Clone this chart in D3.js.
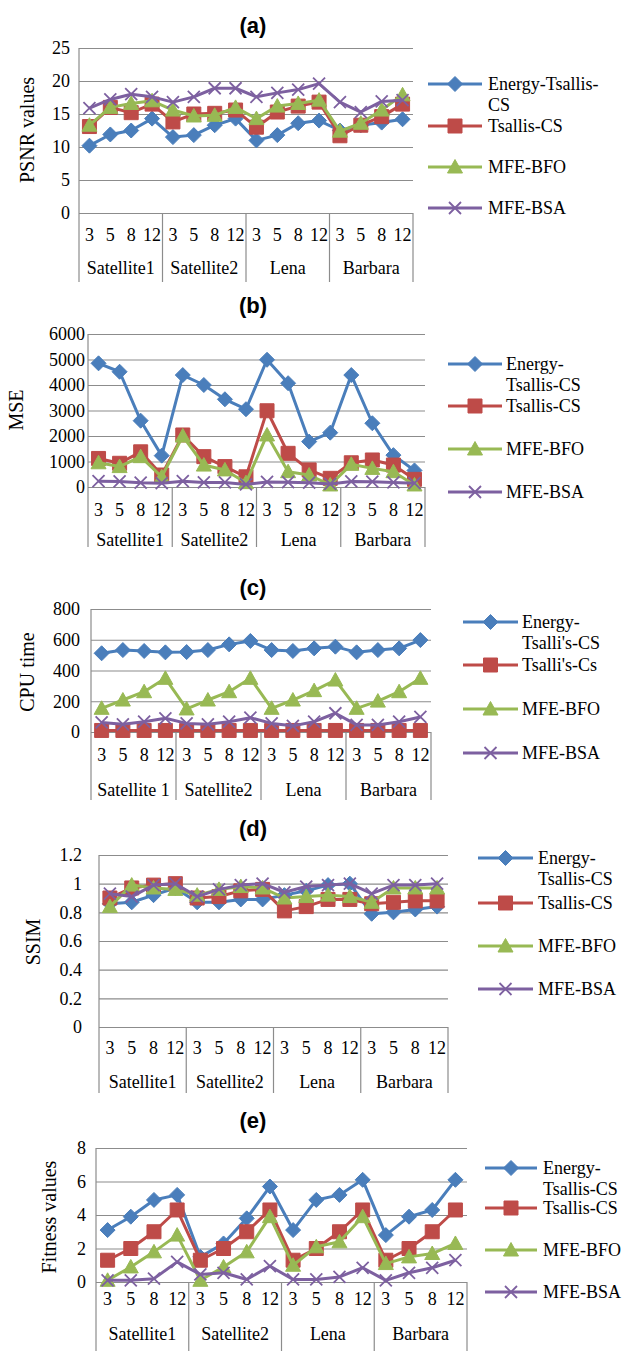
<!DOCTYPE html>
<html>
<head>
<meta charset="utf-8">
<script src="https://cdn.jsdelivr.net/npm/d3@7"></script>
<style>
  body { margin: 0; background: #fff; }
  svg text { font-family: "Liberation Serif", "Times New Roman", serif; fill: #000; }
</style>
</head>
<body>
<script>
// categories
const thresholds = ['3', '5', '8', '12', '3', '5', '8', '12', '3', '5', '8', '12', '3', '5', '8', '12'];
const images = ['Satellite1', 'Satellite2', 'Lena', 'Barbara'];
const imagesC = ['Satellite 1', 'Satellite2', 'Lena', 'Barbara'];

// (a) PSNR
const psnrEnergy  = [10.2, 11.9, 12.5, 14.3, 11.5, 11.8, 13.3, 14.3, 11.0, 11.8, 13.6, 14.0, 12.5, 13.3, 13.7, 14.2];
const psnrTsallis = [13.1, 16.0, 15.2, 16.5, 13.8, 15.0, 15.1, 15.6, 13.0, 15.3, 16.2, 16.8, 11.7, 13.3, 14.6, 16.5];
const psnrBFO     = [13.3, 16.0, 16.6, 17.0, 15.6, 14.7, 14.8, 16.0, 14.3, 16.2, 16.6, 17.1, 12.4, 13.6, 15.6, 17.9];
const psnrBSA     = [15.9, 17.2, 18.0, 17.6, 16.8, 17.6, 18.9, 18.9, 17.6, 18.2, 18.7, 19.6, 16.8, 15.3, 16.9, 17.1];
const psnrTicks = [0, 5, 10, 15, 20, 25];

// (b) MSE
const mseEnergy  = [4850, 4520, 2600, 1230, 4390, 4000, 3440, 3050, 4990, 4070, 1780, 2130, 4390, 2500, 1250, 650];
const mseTsallis = [1120, 930, 1380, 470, 2040, 1190, 800, 400, 2990, 1320, 670, 340, 950, 1060, 860, 300];
const mseBFO     = [950, 800, 1190, 400, 2000, 860, 670, 170, 2040, 600, 470, 80, 890, 730, 600, 80];
const mseBSA     = [230, 220, 170, 150, 230, 180, 180, 100, 200, 190, 170, 120, 220, 210, 180, 150];
const mseTicks = [0, 1000, 2000, 3000, 4000, 5000, 6000];

// (c) CPU time
const cpuEnergy  = [512, 533, 527, 518, 520, 533, 570, 592, 533, 527, 544, 555, 518, 533, 544, 598];
const cpuTsallis = [10, 10, 10, 10, 10, 10, 10, 10, 10, 10, 10, 10, 10, 10, 10, 10];
const cpuBFO     = [154, 208, 262, 349, 150, 208, 262, 349, 154, 208, 269, 338, 154, 201, 262, 349];
const cpuBSA     = [62, 50, 67, 89, 56, 50, 67, 93, 56, 40, 67, 122, 46, 46, 67, 98];
const cpuTicks = [0, 200, 400, 600, 800];

// (d) SSIM
const ssimEnergy  = [0.86, 0.87, 0.92, 0.97, 0.87, 0.87, 0.89, 0.89, 0.92, 0.95, 0.99, 1.0, 0.79, 0.80, 0.82, 0.84];
const ssimTsallis = [0.90, 0.97, 0.99, 1.0, 0.90, 0.91, 0.95, 0.96, 0.81, 0.84, 0.89, 0.89, 0.86, 0.87, 0.88, 0.88];
const ssimBFO     = [0.84, 0.99, 0.97, 0.96, 0.92, 0.96, 0.98, 0.97, 0.90, 0.91, 0.92, 0.91, 0.87, 0.97, 0.97, 0.97];
const ssimBSA     = [0.93, 0.91, 0.99, 1.0, 0.91, 0.96, 0.99, 1.0, 0.94, 0.98, 0.99, 1.0, 0.93, 0.99, 0.99, 1.0];
const ssimTicks = [0, 0.2, 0.4, 0.6, 0.8, 1, 1.2];

// (e) Fitness
const fitEnergy  = [3.1, 3.9, 4.9, 5.2, 1.5, 2.3, 3.8, 5.7, 3.1, 4.9, 5.2, 6.1, 2.8, 3.9, 4.3, 6.1];
const fitTsallis = [1.3, 2.0, 3.0, 4.3, 1.3, 2.0, 3.0, 4.3, 1.3, 2.0, 3.0, 4.3, 1.3, 2.0, 3.0, 4.3];
const fitBFO     = [0.1, 0.9, 1.8, 2.8, 0.1, 0.9, 1.8, 3.9, 1.0, 2.1, 2.4, 3.9, 1.1, 1.5, 1.7, 2.3];
const fitBSA     = [0.1, 0.1, 0.2, 1.2, 0.45, 0.55, 0.15, 0.95, 0.15, 0.15, 0.3, 0.85, 0.1, 0.55, 0.85, 1.3];
const fitTicks = [0, 2, 4, 6, 8];

const colors = ['#4a7ebb', '#be4b48', '#98b954', '#7d60a0'];
const markers = ['diamond', 'square', 'triangle', 'x'];
const serif = '"Liberation Serif", "Times New Roman", serif';

const width = 624, height = 1351;
const svg = d3.select('body').append('svg')
  .attr('width', width)
  .attr('height', height);

// layout of each panel
const panels = [
  { title: '(a)', axisTitle: 'PSNR values', series: [psnrEnergy, psnrTsallis, psnrBFO, psnrBSA], ticks: psnrTicks, groups: images,
    legend: [['Energy-Tsallis-', 'CS'], ['Tsallis-CS'], ['MFE-BFO'], ['MFE-BSA']],
    left: 79, right: 413, top: 48, zero: 213, labelX: 70, titleY: 25, atX: 27, atY: 130, tickY: 235, groupY: 268, bottom: 282,
    lg: { x0: 428, x1: 482, tx: 488, ys: [84, 126, 167, 208] } },
  { title: '(b)', axisTitle: 'MSE', series: [mseEnergy, mseTsallis, mseBFO, mseBSA], ticks: mseTicks, groups: images,
    legend: [['Energy-', 'Tsallis-CS'], ['Tsallis-CS'], ['MFE-BFO'], ['MFE-BSA']],
    left: 88, right: 425, top: 334, zero: 487, labelX: 85, titleY: 305, atX: 16, atY: 410, tickY: 510, groupY: 540, bottom: 547,
    lg: { x0: 448, x1: 502, tx: 506, ys: [364, 406, 449, 492] } },
  { title: '(c)', axisTitle: 'CPU time', series: [cpuEnergy, cpuTsallis, cpuBFO, cpuBSA], ticks: cpuTicks, groups: imagesC,
    legend: [['Energy-', "Tsalli's-CS"], ["Tsalli's-Cs"], ['MFE-BFO'], ['MFE-BSA']],
    left: 91, right: 431, top: 609, zero: 732, labelX: 80, titleY: 587, atX: 27, atY: 672, tickY: 755, groupY: 790, bottom: 800,
    lg: { x0: 463, x1: 518, tx: 522, ys: [622, 665, 709, 753] } },
  { title: '(d)', axisTitle: 'SSIM', series: [ssimEnergy, ssimTsallis, ssimBFO, ssimBSA], ticks: ssimTicks, groups: images,
    legend: [['Energy-', 'Tsallis-CS'], ['Tsallis-CS'], ['MFE-BFO'], ['MFE-BSA']],
    left: 99, right: 448, top: 855, zero: 1027, labelX: 82, titleY: 828, atX: 33, atY: 942, tickY: 1048, groupY: 1082, bottom: 1093,
    lg: { x0: 478, x1: 533, tx: 538, ys: [858, 903, 946, 989] } },
  { title: '(e)', axisTitle: 'Fitness values', series: [fitEnergy, fitTsallis, fitBFO, fitBSA], ticks: fitTicks, groups: images,
    legend: [['Energy-', 'Tsallis-CS'], ['Tsallis-CS'], ['MFE-BFO'], ['MFE-BSA']],
    left: 96, right: 467, top: 1148, zero: 1282, labelX: 86, titleY: 1120, atX: 49, atY: 1217, tickY: 1299, groupY: 1334, bottom: 1351,
    lg: { x0: 485, x1: 537, tx: 543, ys: [1168, 1208, 1250, 1292] } }
];

const markerPath = (type) => {
  if (type == 'diamond') return 'M0,-7.5L7.5,0L0,7.5L-7.5,0Z';
  if (type == 'square') return 'M-7,-7H7V7H-7Z';
  if (type == 'triangle') return 'M0,-7.5L7.5,6L-7.5,6Z';
  return 'M-6,-6L6,6M-6,6L6,-6';
};

const drawMarker = (g, type, color, x, y) => {
  const p = g.append('path')
    .attr('d', markerPath(type))
    .attr('transform', `translate(${x},${y})`);
  if (type == 'x') {
    p.attr('fill', 'none').attr('stroke', color).attr('stroke-width', 1.8);
  } else {
    p.attr('fill', color).attr('stroke', color).attr('stroke-width', 1);
  }
};

const gridColor = '#8c8c8c';

const drawPanel = (p) => {
  const g = svg.append('g');
  const w = p.right - p.left;

  const y = d3.scaleLinear()
    .domain([0, p.ticks[p.ticks.length - 1]])
    .range([p.zero, p.top]);
  const x = d3.scaleBand()
    .domain(d3.range(thresholds.length))
    .range([p.left, p.right]);
  const xg = d3.scaleBand()
    .domain(p.groups)
    .range([p.left, p.right]);

  // title
  g.append('text')
    .attr('x', 253).attr('y', p.titleY)
    .attr('text-anchor', 'middle')
    .attr('dominant-baseline', 'central')
    .style('font-family', '"Liberation Sans", Arial, sans-serif')
    .style('font-weight', 'bold')
    .style('font-size', '22px')
    .text(p.title);

  // y axis with gridlines
  const yAxis = d3.axisLeft(y)
    .tickValues(p.ticks)
    .tickSize(-w)
    .tickPadding(p.left - p.labelX)
    .tickFormat(d => String(d));
  const ya = g.append('g')
    .attr('transform', `translate(${p.left},0)`)
    .call(yAxis)
    .attr('font-family', null);
  ya.select('.domain').remove();
  ya.selectAll('line').attr('stroke', gridColor).attr('stroke-width', 1.2);
  ya.selectAll('text')
    .style('font-family', serif)
    .style('font-size', '18px')
    .attr('fill', '#000');

  // left axis line and category separators
  g.append('line')
    .attr('x1', p.left).attr('x2', p.left)
    .attr('y1', p.top).attr('y2', p.bottom)
    .attr('stroke', gridColor).attr('stroke-width', 1.2);
  p.groups.forEach(grp => {
    const xr = xg(grp) + xg.bandwidth();
    g.append('line')
      .attr('x1', xr).attr('x2', xr)
      .attr('y1', p.zero).attr('y2', p.bottom)
      .attr('stroke', gridColor).attr('stroke-width', 1.2);
  });

  // category labels
  g.selectAll('.tick-lbl')
    .data(thresholds)
    .enter()
    .append('text')
    .attr('x', (d, i) => x(i) + x.bandwidth() / 2)
    .attr('y', p.tickY)
    .attr('text-anchor', 'middle')
    .attr('dominant-baseline', 'central')
    .style('font-family', serif)
    .style('font-size', '18px')
    .text(d => d);
  g.selectAll('.grp-lbl')
    .data(p.groups)
    .enter()
    .append('text')
    .attr('x', d => xg(d) + xg.bandwidth() / 2)
    .attr('y', p.groupY)
    .attr('text-anchor', 'middle')
    .attr('dominant-baseline', 'central')
    .style('font-family', serif)
    .style('font-size', '18px')
    .text(d => d);

  // axis title
  g.append('text')
    .attr('transform', `translate(${p.atX},${p.atY}) rotate(-90)`)
    .attr('text-anchor', 'middle')
    .attr('dominant-baseline', 'central')
    .style('font-family', serif)
    .style('font-size', '20px')
    .text(p.axisTitle);

  // series
  const line = d3.line()
    .x((d, i) => x(i) + x.bandwidth() / 2)
    .y(d => y(d));
  p.series.forEach((s, si) => {
    g.append('path')
      .datum(s)
      .attr('d', line)
      .attr('fill', 'none')
      .attr('stroke', colors[si])
      .attr('stroke-width', 3)
      .attr('stroke-linejoin', 'round');
    s.forEach((v, i) => drawMarker(g, markers[si], colors[si], x(i) + x.bandwidth() / 2, y(v)));
  });

  // legend
  p.legend.forEach((lbl, si) => {
    const ly = p.lg.ys[si];
    g.append('line')
      .attr('x1', p.lg.x0).attr('x2', p.lg.x1)
      .attr('y1', ly).attr('y2', ly)
      .attr('stroke', colors[si]).attr('stroke-width', 3);
    drawMarker(g, markers[si], colors[si], (p.lg.x0 + p.lg.x1) / 2, ly);
    lbl.forEach((t, k) => {
      g.append('text')
        .attr('x', p.lg.tx)
        .attr('y', ly + k * 21)
        .attr('dominant-baseline', 'central')
        .style('font-family', serif)
        .style('font-size', '18px')
        .text(t);
    });
  });
};

panels.forEach(drawPanel);
</script>
</body>
</html>
